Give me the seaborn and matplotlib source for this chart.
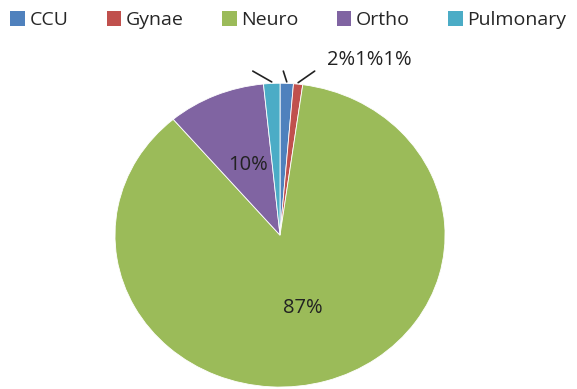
import numpy as np
import matplotlib
matplotlib.use("Agg")
import matplotlib.pyplot as plt
from matplotlib.patches import Patch
import seaborn as sns

# Share of cases by department (percent)
departments = ["CCU", "Gynae", "Neuro", "Ortho", "Pulmonary"]
shares = [1.3, 0.9, 86.6, 9.6, 1.6]
colors = ["#4F81BD", "#C0504D", "#9BBB59", "#8064A2", "#4BACC6"]

sns.set_theme(style="white")
plt.rcParams["font.family"] = ["Open Sans", "DejaVu Sans"]

fig = plt.figure(figsize=(5.77, 3.89), dpi=100)
ax = fig.add_axes([0.1993, 0.005, 0.572, 0.781])

palette = sns.color_palette(colors)
fmt = lambda v: f"{v:.0f}%"
wedges, _ = ax.pie(
    shares, colors=palette, startangle=90, counterclock=False,
    wedgeprops=dict(edgecolor="white", linewidth=0.6),
)
ax.set_aspect("auto")
ax.set_xlim(-1, 1)
ax.set_ylim(-1, 1)

label_kw = dict(ha="center", va="center", fontsize=14.5, color="#222222")

# In-slice labels for the large slices
for w, v in zip(wedges, shares):
    if v < 5:
        continue
    mid = np.deg2rad((w.theta1 + w.theta2) / 2)
    ax.text(0.5 * np.cos(mid), 0.5 * np.sin(mid), fmt(v), **label_kw)

# Leader lines for the thin slices, fanned out above the pie (left to right)
small = [i for i, v in enumerate(shares) if v < 5]
order = sorted(small, key=lambda i: np.cos(np.deg2rad((wedges[i].theta1 + wedges[i].theta2) / 2)))
ends_x = [-0.165, 0.02, 0.21]
for i, ex in zip(order, ends_x):
    w = wedges[i]
    mid = np.deg2rad((w.theta1 + w.theta2) / 2)
    ax.plot([np.cos(mid), ex], [np.sin(mid) + 0.01, 1.08], color="#222222",
            lw=1.2, clip_on=False)
ax.text(0.54, 1.155, "".join(fmt(shares[i]) for i in order), **label_kw)

handles = [Patch(facecolor=c, edgecolor="none") for c in palette]
fig.legend(handles, departments, loc="center", ncol=5,
           bbox_to_anchor=(0.5, 0.948), frameon=False, fontsize=14,
           handlelength=0.75, handleheight=0.75, handletextpad=0.25,
           columnspacing=1.95, borderpad=0, borderaxespad=0)

fig.savefig("out.png", dpi=100, facecolor="white")
